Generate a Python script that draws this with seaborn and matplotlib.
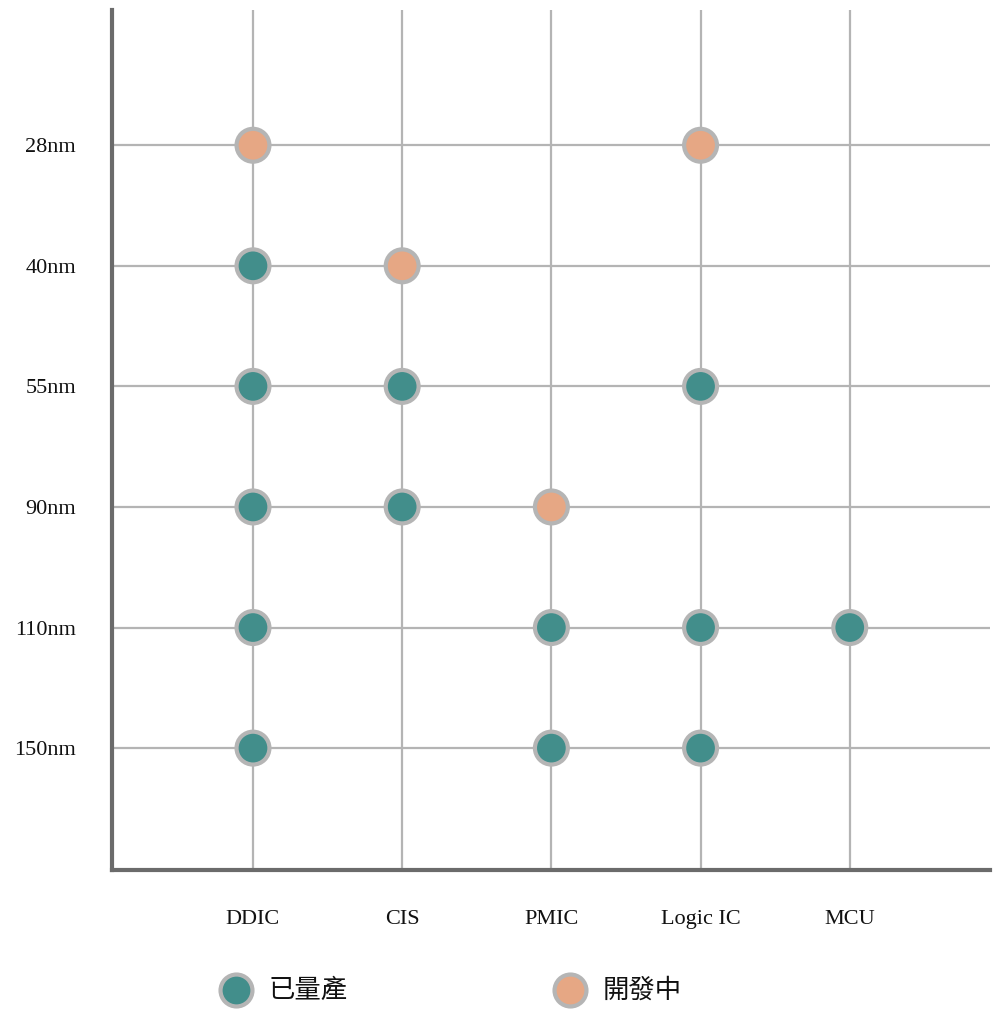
import matplotlib
matplotlib.use("Agg")
import matplotlib.pyplot as plt
import seaborn as sns
import pandas as pd

categories = ["DDIC", "CIS", "PMIC", "Logic IC", "MCU"]
nodes = ["150nm", "110nm", "90nm", "55nm", "40nm", "28nm"]
point_cat = ["DDIC"]*6 + ["CIS"]*3 + ["PMIC"]*3 + ["Logic IC"]*4 + ["MCU"]
point_node = ["28nm","40nm","55nm","90nm","110nm","150nm",
              "40nm","55nm","90nm",
              "90nm","110nm","150nm",
              "28nm","55nm","110nm","150nm",
              "110nm"]
point_status = ["開發中","已量產","已量產","已量產","已量產","已量產",
                "開發中","已量產","已量產",
                "開發中","已量產","已量產",
                "開發中","已量產","已量產","已量產",
                "已量產"]
statuses = ["已量產", "開發中"]
colors = {"已量產": "#428e8b", "開發中": "#e6a784"}

df = pd.DataFrame({"x": [categories.index(c) for c in point_cat],
                   "y": [nodes.index(n) for n in point_node],
                   "status": point_status})

sns.set_style("white")
fig = plt.figure(figsize=(10, 10.21), dpi=100)
ax = fig.add_axes([0.112, 0.148, 0.878, 0.842])
ax.set_xlim(-0.945, 4.94)
ax.set_ylim(-1.01, 6.12)
ax.set_xticks(range(len(categories)))
ax.set_xticklabels(categories, fontfamily="Liberation Serif", fontsize=16, color="#111111")
ax.set_yticks(range(len(nodes)))
ax.set_yticklabels(nodes, fontfamily="Liberation Serif", fontsize=16, color="#111111")
ax.tick_params(axis="x", length=0, pad=29)
ax.tick_params(axis="y", length=0, pad=26)
ax.grid(True, color="#b4b4b4", linewidth=1.6)
ax.set_axisbelow(True)
for s in ["top", "right"]:
    ax.spines[s].set_visible(False)
for s in ["left", "bottom"]:
    ax.spines[s].set_color("#6b6b6b")
    ax.spines[s].set_linewidth(3)

sns.scatterplot(data=df, x="x", y="y", hue="status", palette=colors,
                s=560, edgecolor="#b5b5b5", linewidth=3, legend=False,
                ax=ax, zorder=3, clip_on=False)
ax.set_xlabel("")
ax.set_ylabel("")

leg_x = [0.236, 0.570]
for lx, st in zip(leg_x, statuses):
    fig.add_artist(plt.Line2D([lx], [1 - 990/1021], marker="o", markersize=23,
                              markerfacecolor=colors[st], markeredgecolor="#b5b5b5",
                              markeredgewidth=3, linestyle="none",
                              transform=fig.transFigure))
    fig.text(lx + 0.033, 1 - 990/1021, st, fontfamily=["Noto Sans CJK TC", "DejaVu Sans"],
             fontsize=19, va="center", ha="left", color="#111111")

fig.savefig("out.png", dpi=100)
